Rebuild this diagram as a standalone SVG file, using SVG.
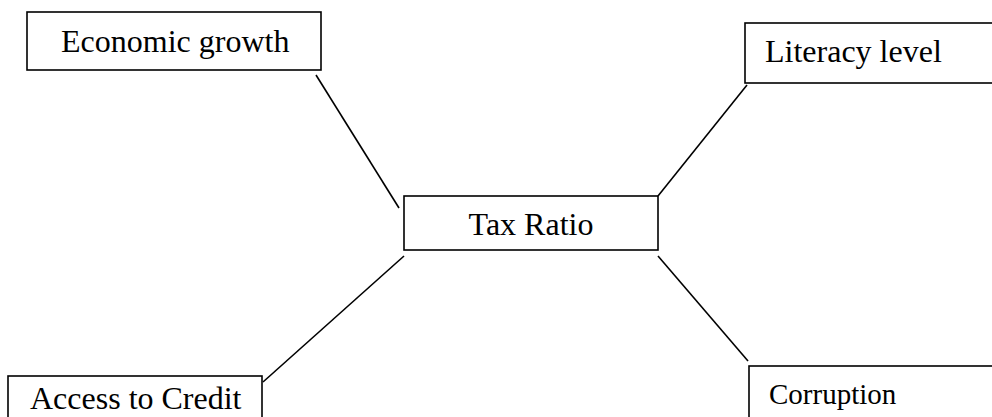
<svg xmlns="http://www.w3.org/2000/svg" width="992" height="417" viewBox="0 0 992 417">
<style>
.box{fill:#fff;stroke:#000;stroke-width:1.6}
.lbl{font-family:"Liberation Serif","Times New Roman",serif;font-size:32px;fill:#000}
.con line{stroke:#000;stroke-width:1.6}
</style>
<rect width="992" height="417" fill="#fff"/>
<g id="connectors" class="con">
<line x1="316" y1="75" x2="399" y2="208"/>
<line x1="747" y1="85" x2="658" y2="196"/>
<line x1="404" y1="256" x2="263" y2="382"/>
<line x1="658" y1="256" x2="748" y2="361"/>
</g>
<g id="economic-growth">
<rect class="box" x="27" y="12" width="294" height="58"/>
<text class="lbl" x="61" y="52">Economic growth</text>
</g>
<g id="literacy-level">
<rect class="box" x="745" y="23" width="260" height="60"/>
<text class="lbl" x="765" y="62">Literacy level</text>
</g>
<g id="tax-ratio">
<rect class="box" x="404" y="196" width="254" height="54"/>
<text class="lbl" x="531" y="235" text-anchor="middle">Tax Ratio</text>
</g>
<g id="access-to-credit">
<rect class="box" x="8" y="376" width="254" height="60"/>
<text class="lbl" x="30" y="409">Access to Credit</text>
</g>
<g id="corruption">
<rect class="box" x="749" y="366" width="260" height="60"/>
<text class="lbl" x="769" y="404" style="font-size:29px">Corruption</text>
</g>
</svg>
